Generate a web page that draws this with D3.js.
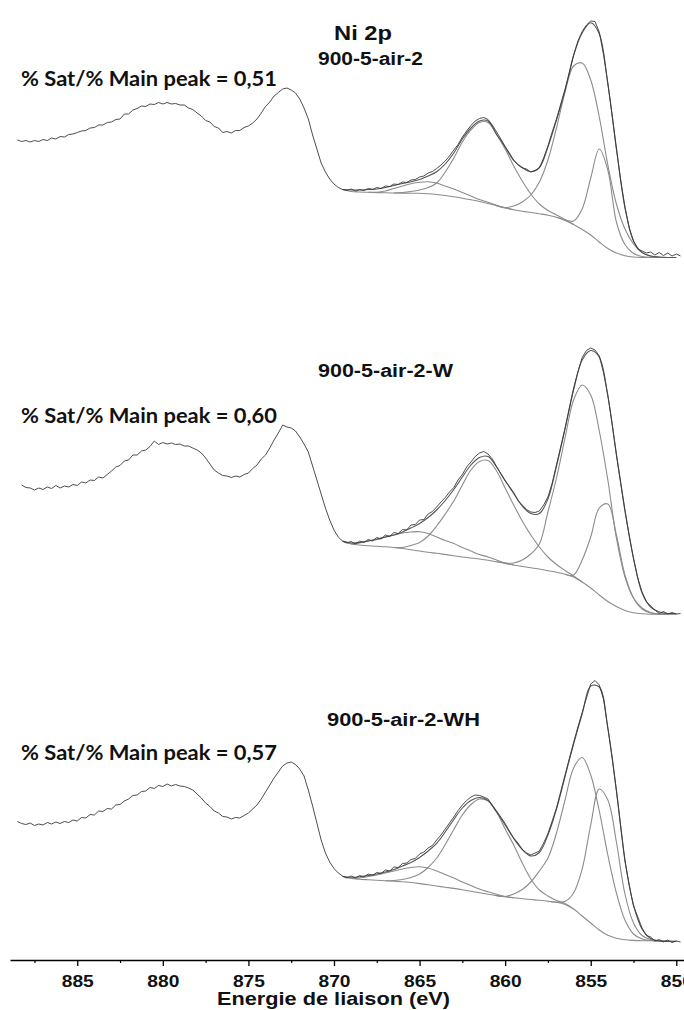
<!DOCTYPE html>
<html><head><meta charset="utf-8">
<script src="https://cdn.jsdelivr.net/npm/d3@7"></script>
<style>body{margin:0;background:#fff}svg{display:block}</style>
</head><body>
<svg id="c" width="684" height="1010"></svg>
<script>
// ---------- DATA ----------
const title = "Ni 2p";
const xTitle = "Energie de liaison (eV)";
const sampleNames = ["900-5-air-2", "900-5-air-2-W", "900-5-air-2-WH"];
const satRatios = ["0,51", "0,60", "0,57"];
const majorTicks = [885, 880, 875, 870, 865, 860, 855, 850];
const minorTicks = [887.5, 882.5, 877.5, 872.5, 867.5, 862.5, 857.5, 852.5];

// raw spectra: binding energy starts, step -0.25 eV
const rawStart = [888.5, 888.25, 888.5];
const rawStep = 0.25;
const raw1 = [118,116.5,117.5,116,117.5,116.5,118.5,117.5,120,119,121.5,121,123.5,124,125.5,127,127.5,130,130.5,133,133,135.5,136,138.5,139,144,144,148,149.5,152,151.5,154,153.5,155.5,154,155.5,154,154.5,153,153,150,148.5,145,142,137.5,136,131.5,130,125.5,126.5,125,127.5,127.5,130.5,132,135,139,145,151.5,156,162,165.5,169,170,168,165,159,150,139,123,109,95,86,79,74,70.5,68.5,
67.5,69,67,68.5,67.5,69.5,68.5,70.5,69.5,72,71.5,74,73.5,76,75.5,78,78.5,81,82,85,86.5,89.5,93,97,102,108,113.5,121,127,132.5,137,139.5,140.5,138.5,133,126,119,111.5,105,98,93,90,89,86,87.5,90,100,112,126,139,154,169,185,203,217,226.5,233,237,236.5,226,203,175,143,109,78,51,30,17,9,7,5,6,3,5.5,2.5,5,2,4,2];
const raw2 = [130,127.5,127,125,127,125.5,128,126.5,129.5,127,129,128,130.5,129.5,133,132,135,134.5,138,137,140.5,144,148,149.5,154,155,160,160,164,165,168.5,174,170.5,172.5,171,172,170.5,171,169,169,167,165,162,157,151,145,142,139.5,139,137.5,139,138,140.5,142,146.5,150,156,160,167,175,182,190,188,187,184,178,171,163,149,135,121,107,95,85,78,74,
72,73.5,71,74,72.5,75.5,74,77.5,76,80,78.5,82.5,81.5,85.5,85,90,90.5,95,95.5,101,103.5,108,113,117.5,123,127.5,135,140.5,148,153,158.5,162,163.5,161,156,148.5,141,134,128.5,122.5,114.5,110,105.5,103,102.5,104,110,118,132,150,168.5,187,207,227,243,257.5,264.5,267,265,259,242,220,191,160,132,104,79,56,37,23,13.5,9,5,1.5,3.5,1,2.5,1,1.5];
const raw3 = [120.5,118.5,117.5,119,116.5,118,117,119.5,118,120,118.5,120.5,119.5,122,121,124.5,124,127.5,127,131,130.5,133.5,133,137,137.5,141,143,146.5,147,150.5,151,154.5,153.5,156.5,155.5,158,156,157.5,156,155.5,154,152,148,144,139,135.5,131,129,125.5,125,123,124.5,124,126.5,129,133,137,143,150,157,164,170,176,179,180,177.5,173,166,152,136,119,102,89,80,73.5,69,66,
64,66,64,66.5,65,68,66.5,69.5,68.5,72,71,75,74.5,78.5,79,82.5,83.5,88,90,94,96.5,102,107,113,119,125,131.5,137,141.5,145,147,146.5,145,143,136.5,131,125,118.5,111,104,99,92.5,89,87,89,91,99,108.5,121,134,150.5,167,183.5,199.5,215,229.5,244,258,261.5,257,243,214,184,151,116,81,57,36,25,14,6.5,5,1,2.5,0,2,-0.5,1,0];

// fitted curves: binding energy 869.5 -> 850.0, step -0.5 eV
const fitStart = 869.5, fitStep = 0.5;
const env1 = [68.5,68,68,68.5,69,70.5,72.5,74.5,76.2,78.5,82,86.3,94,105,119,130,137,137,123.5,111,97.5,90.5,86.3,90.5,111,138,167.4,202.5,225,235.3,224.2,174,110,50.3,17,5.4,2,1,0.5,0.5];
const bg1 = [68.5,66.5,66,65.7,65.4,65.2,65,64.9,64.8,64.7,64.2,63.5,62.5,61.2,59.8,58.2,56.5,54.5,52.2,50,48.3,46.8,45.5,44.2,42.8,40.7,37.5,33.5,28.5,23,16,9.5,5,2.3,1,0.6,0.5,0.5,0.5,0.5];
const n = null;
const compA1 = [n,n,n,n,65.7,67,69.5,72,74.2,75.7,76.3,75,72,69,65.5,62,58.5,55.7,52.8,50.2,n,n,n,n,n,n,n,n,n,n,n,n,n,n,n,n,n,n,n,n];
const compB1 = [n,n,n,n,n,n,n,65.5,66.5,68,70.5,75,86,100,116,128,135.5,135.5,123.5,109,92,77,64,54,47.5,43,38.5,n,n,n,n,n,n,n,n,n,n,n,n,n];
const compC1 = [n,n,n,n,n,n,n,n,n,n,n,n,n,n,n,n,n,n,n,50.5,52,56,63,76,98,130,166,192,195,178,141,93,54,29,14,5.5,2,0.7,n,n];
const compD1 = [n,n,n,n,n,n,n,n,n,n,n,n,n,n,n,n,n,n,n,n,n,n,n,n,n,n,38,37,49,80,109,88,36,13.5,4.5,1.5,0.7,n,n,n];

const env2 = [74,72,72.5,74,75.5,78,80,83,87,91.5,97.5,105,114.5,125.5,138,150,157.5,158.5,148,134.5,121.5,109,101.5,101.5,116,149,186,225,255,264.5,258,219,161,105,57,22,8,3,1.5,1.5];
const bg2 = [73.5,71,70,69.2,68.7,68.3,67.5,66.5,65.3,64,62.7,61.7,60.5,59.3,58,57,56,54.8,53.2,51.5,50,48.5,47.2,46,44.3,42.7,40.7,38,33,27,20,13.5,8.5,4.5,2.2,1.2,0.8,0.7,0.7,0.7];
const compA2 = [n,n,72,74,76,78,80,82,83,83.3,81.5,78,74.5,71.5,67.5,64,60.5,58,55,52,n,n,n,n,n,n,n,n,n,n,n,n,n,n,n,n,n,n,n,n];
const compB2 = [n,n,n,n,n,n,n,67.5,69.5,72.5,79,89,101,114,130,145,153.5,154.5,144,127,110,94,80,68,58,50.5,44.5,39,n,n,n,n,n,n,n,n,n,n,n,n];
const compC2 = [n,n,n,n,n,n,n,n,n,n,n,n,n,n,n,n,n,n,n,52,52,55,61,71,103,137,177,215,230,220,184,135,77,38,17,7,2.5,1,n,n];
const compD2 = [n,n,n,n,n,n,n,n,n,n,n,n,n,n,n,n,n,n,n,n,n,n,n,n,n,n,n,40,55,78,107,111,80,40,17,6,2,0.8,n,n];

const env3 = [65.5,64.7,65.2,66.5,68,70,72.5,76,79.5,84.5,91,98.7,110,122.5,134,141.5,144.5,141.5,130,117,103.5,92.5,86,89.5,107,133,165.5,198,228,256,255,214,152,82,37,13,3.5,1,0.5,0.5];
const bg3 = [65.5,63.5,62.7,62.2,61.7,61.2,60.7,60.3,59.5,58.4,57.2,56,54.8,53.6,52.2,50.7,49.2,47.7,46.4,45.2,44.2,43.3,42.5,41.7,40.8,39.7,37.5,33,26,19,12,6.7,3.7,2.2,1.6,1.3,1.2,1.1,1,1];
const compA3 = [n,n,64,65.5,67,69,71,73,74.5,75.3,74,71,67.5,64,60,56.5,53,50.2,47.7,45.5,n,n,n,n,n,n,n,n,n,n,n,n,n,n,n,n,n,n,n,n];
const compB3 = [n,n,n,n,n,n,61.5,62.5,64.5,68,74.5,84,97.5,112.5,127,137.5,143,141,130,113,97,79,63,52,46,41.5,38.5,n,n,n,n,n,n,n,n,n,n,n,n,n];
const compC3 = [n,n,n,n,n,n,n,n,n,n,n,n,n,n,n,n,n,n,n,45.5,48,52.5,60,71,84,109,142,174,184.5,167,131,87,49,22,8,3,1.5,1.1,n,n];
const compD3 = [n,n,n,n,n,n,n,n,n,n,n,n,n,n,n,n,n,n,n,n,n,n,n,n,n,39.7,40.5,49,73,117,153,142,100,48,19,6.5,2.5,1.1,n,n];

// ---------- CHART ----------
const svg = d3.select('#c');
const x = d3.scaleLinear().domain([888.93, 849.55]).range([10, 684]);

const panels = [
  {raw: raw1, env: env1, bg: bg1, comps: [compA1, compB1, compC1, compD1], base: 258, nameY: 65, ratioY: 86, nameLen: 105},
  {raw: raw2, env: env2, bg: bg2, comps: [compA2, compB2, compC2, compD2], base: 615, nameY: 377, ratioY: 423, nameLen: 135},
  {raw: raw3, env: env3, bg: bg3, comps: [compA3, compB3, compC3, compD3], base: 942, nameY: 726, ratioY: 760, nameLen: 153}
];

const fitE = i => fitStart - fitStep * i;

panels.forEach((p, k) => {
  const y = d3.scaleLinear().domain([0, 260]).range([p.base, p.base - 260]);
  const g = svg.append('g');
  const smooth = d3.line().x(d => x(d[0])).y(d => y(d[1])).curve(d3.curveCatmullRom.alpha(0.5));
  const straight = d3.line().x(d => x(d[0])).y(d => y(d[1]));

  // background
  g.append('path').attr('d', smooth(p.bg.map((v, i) => [fitE(i), v])))
    .attr('fill', 'none').attr('stroke', '#8c8c8c').attr('stroke-width', 1.1);
  // components
  p.comps.forEach(c => {
    let first = c.findIndex(v => v !== null), last = c.length - 1;
    while (c[last] === null) last--;
    const a = Math.max(0, first - 1), b = Math.min(c.length - 1, last + 1);
    const pts = [];
    for (let i = a; i <= b; i++) pts.push([fitE(i), c[i] === null ? p.bg[i] : c[i]]);
    g.append('path').attr('d', smooth(pts))
      .attr('fill', 'none').attr('stroke', '#8c8c8c').attr('stroke-width', 1.1);
  });
  // envelope
  g.append('path').attr('d', smooth(p.env.map((v, i) => [fitE(i), v])))
    .attr('fill', 'none').attr('stroke', '#555').attr('stroke-width', 1.1);
  // raw
  g.append('path').attr('d', straight(p.raw.map((v, i) => [rawStart[k] - rawStep * i, v])))
    .attr('fill', 'none').attr('stroke', '#3a3a3a').attr('stroke-width', 0.9);

  // labels
  svg.append('text').text(sampleNames[k])
    .attr('x', k === 2 ? 327 : 318).attr('y', p.nameY)
    .attr('font-family', 'Liberation Sans, Arial, sans-serif').attr('font-weight', 'bold')
    .attr('font-size', 18).attr('textLength', p.nameLen).attr('lengthAdjust', 'spacingAndGlyphs')
    .attr('fill', '#111');
  svg.append('text').text('% Sat/% Main peak = ' + satRatios[k])
    .attr('x', 21).attr('y', p.ratioY)
    .attr('font-family', 'Lato, Carlito, sans-serif').attr('font-weight', 'bold')
    .attr('font-size', 20).attr('textLength', 256).attr('lengthAdjust', 'spacingAndGlyphs')
    .attr('fill', '#111');
});

svg.append('text').text(title)
  .attr('x', 334).attr('y', 40)
  .attr('font-family', 'Liberation Sans, Arial, sans-serif').attr('font-weight', 'bold')
  .attr('font-size', 20).attr('textLength', 58).attr('lengthAdjust', 'spacingAndGlyphs')
  .attr('fill', '#111');

// axis
const axisY = 960;
const gMin = svg.append('g').attr('transform', `translate(0,${axisY})`)
  .call(d3.axisBottom(x).tickValues(minorTicks).tickSize(3).tickSizeOuter(0).tickFormat(''));
gMin.select('.domain').remove();
gMin.selectAll('line').attr('stroke', '#000').attr('stroke-width', 1.2);

const gAx = svg.append('g').attr('transform', `translate(0,${axisY})`)
  .call(d3.axisBottom(x).tickValues(majorTicks).tickSize(6).tickSizeOuter(0).tickPadding(9.5).tickFormat(d3.format('d')));
gAx.select('.domain').attr('stroke', '#000').attr('stroke-width', 1.4);
gAx.selectAll('line').attr('stroke', '#000').attr('stroke-width', 1.3);
gAx.selectAll('text')
  .attr('font-family', 'Liberation Sans, Arial, sans-serif').attr('font-weight', 'bold')
  .attr('font-size', 16).attr('fill', '#111')
  .attr('textLength', 32).attr('lengthAdjust', 'spacingAndGlyphs');

svg.append('text').text(xTitle)
  .attr('x', 333.5).attr('y', 1005).attr('text-anchor', 'middle')
  .attr('font-family', 'Liberation Sans, Arial, sans-serif').attr('font-weight', 'bold')
  .attr('font-size', 19).attr('textLength', 233).attr('lengthAdjust', 'spacingAndGlyphs')
  .attr('fill', '#111');
</script>
</body></html>
